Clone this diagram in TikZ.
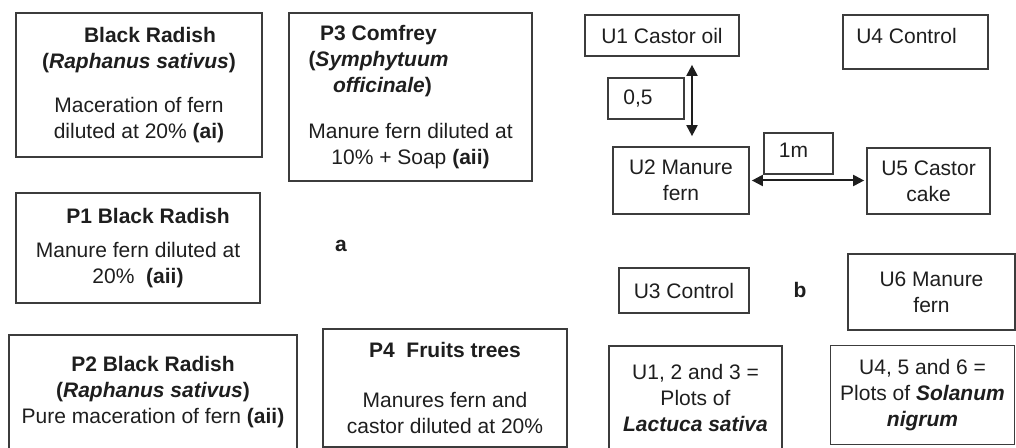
\documentclass[tikz,border=0pt]{standalone}
\usepackage{fontspec}
\setmainfont{Liberation Sans}
\usetikzlibrary{arrows.meta}
\definecolor{frame}{RGB}{60,60,60}
\definecolor{ink}{RGB}{30,30,30}

\tikzset{
  plotbox/.style={draw=frame,line width=0.85pt,align=center,inner sep=0pt,text=ink,
    font=\fontsize{10.5}{13}\selectfont},
  dimarrow/.style={{Triangle[length=5.5pt,width=5.5pt]}-{Triangle[length=5.5pt,width=5.5pt]},
    line width=1pt,ink},
  panel/.style={font=\fontsize{10.5}{13}\selectfont\bfseries,text=ink}
}

\begin{document}
\begin{tikzpicture}[x=0.5pt,y=-0.5pt]
  \useasboundingbox (0,0) rectangle (1016,448);
  % a: treatments
  \node[plotbox,minimum width=123pt,minimum height=72pt] (rad) at (139,85)
    {\rule{11pt}{0pt}\textbf{Black Radish}\\ \textbf{(\textit{Raphanus sativus})}\\[9pt] Maceration of fern\\ diluted at 20\% \textbf{(ai)}};
  \node[plotbox,minimum width=121.5pt,minimum height=84pt] (p3) at (410.5,97)
    {\textbf{P3 Comfrey}\rule{32pt}{0pt}\\ \textbf{(\textit{Symphytuum}}\rule{32pt}{0pt}\\ \textbf{\textit{officinale})}\rule{28pt}{0pt}\\[10pt] Manure fern diluted at\\ 10\% + Soap \textbf{(aii)}};
  \node[plotbox,minimum width=122pt,minimum height=55pt] (p1) at (138,248)
    {\rule{10pt}{0pt}\textbf{P1 Black Radish}\\[4pt] Manure fern diluted at\\ 20\%\ \ \textbf{(aii)}};
  \node[plotbox,minimum width=144pt,minimum height=57.5pt] (p2) at (153,392.5)
    {\textbf{P2 Black Radish}\\ \textbf{(\textit{Raphanus sativus})}\\ Pure maceration of fern \textbf{(aii)}};
  \node[plotbox,minimum width=122pt,minimum height=59pt] (p4) at (445,388)
    {\textbf{P4\ \ Fruits trees}\\[12pt] Manures fern and\\ castor diluted at 20\%};
  \node[panel] (laba) at (341,246) {a};
  % b: plots
  \node[plotbox,minimum width=77pt,minimum height=20.5pt] (u1) at (662,35.5) {U1 Castor oil};
  \node[plotbox,minimum width=72.5pt,minimum height=27pt] (u4) at (915.5,42)
    {\raisebox{3pt}[\height][\depth]{U4 Control}\rule{9pt}{0pt}};
  \node[plotbox,minimum width=38pt,minimum height=20.5pt] (len05) at (646,98.5) {0,5\rule{8pt}{0pt}};
  \node[plotbox,minimum width=68pt,minimum height=33.5pt] (u2) at (681,180.5) {U2 Manure\\ fern};
  \node[plotbox,minimum width=34.5pt,minimum height=20.5pt] (len1m) at (798.5,153.5)
    {\raisebox{1.5pt}[\height][\depth]{1m}\rule{5pt}{0pt}};
  \node[plotbox,minimum width=61.5pt,minimum height=33pt] (u5) at (928.5,181) {U5 Castor\\ cake};
  \node[plotbox,minimum width=65pt,minimum height=22.5pt] (u3) at (684,290.5) {U3 Control};
  \node[plotbox,minimum width=83.5pt,minimum height=38pt] (u6) at (931.5,292) {U6 Manure\\ fern};
  \node[plotbox,minimum width=86.5pt,minimum height=52pt] (lact) at (695.5,398)
    {U1, 2 and 3 =\\ Plots of\\ \textbf{\textit{Lactuca sativa}}};
  \node[plotbox,minimum width=92pt,minimum height=49.5pt] (sola) at (922.5,395)
    {U4, 5 and 6 =\\ Plots of \textbf{\textit{Solanum}}\\ \textbf{\textit{nigrum}}};
  \node[panel] (labb) at (800,290) {b};
  % distances
  \coordinate (vx) at (692,0);
  \draw[dimarrow,shorten <=4pt,shorten >=5pt] (u1.south -| vx) -- (u2.north -| vx);
  \draw[dimarrow,shorten <=1pt,shorten >=1pt] (u2.east) -- (u2.east -| u5.west);
\end{tikzpicture}
\end{document}
